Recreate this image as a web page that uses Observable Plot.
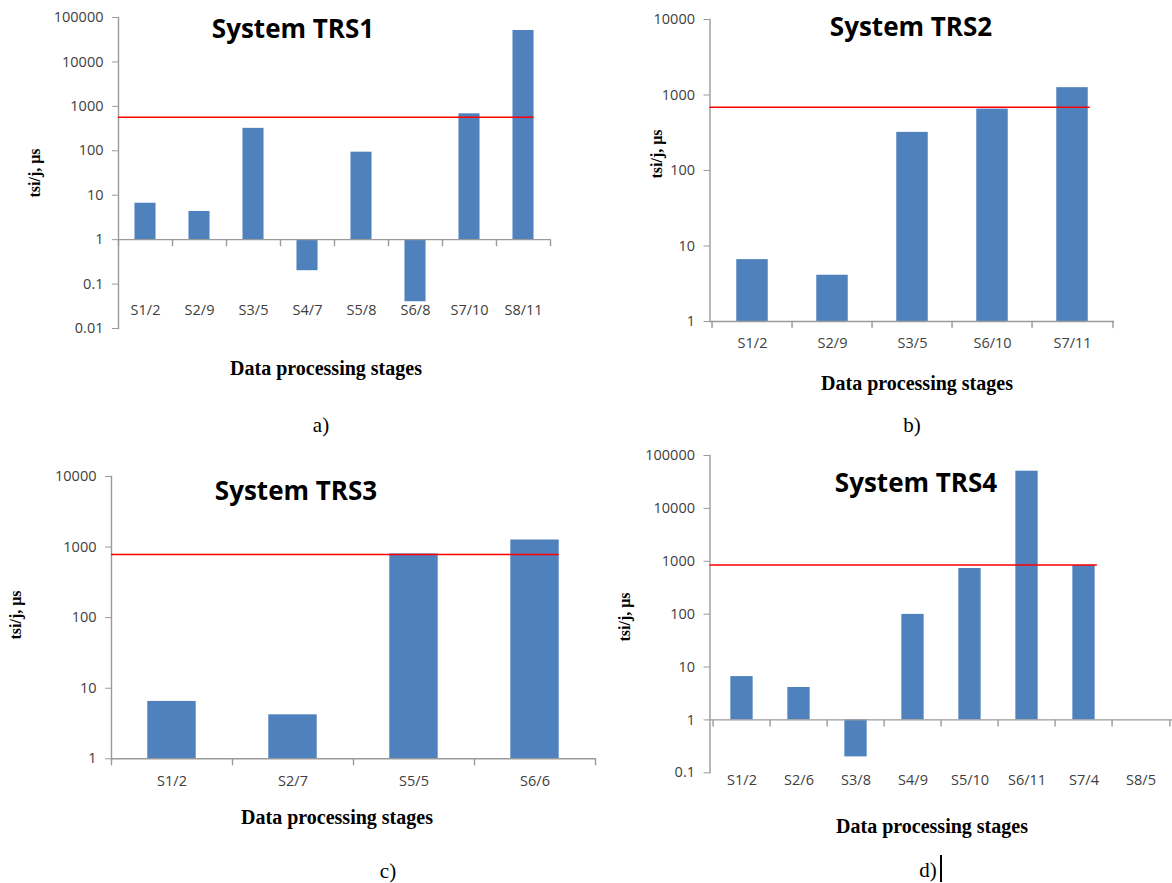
<!DOCTYPE html>
<html><head><meta charset="utf-8">
<script src="https://cdn.jsdelivr.net/npm/d3@7"></script>
<script src="https://cdn.jsdelivr.net/npm/@observablehq/plot@0.6"></script>
<style>
html,body{margin:0;padding:0;background:#fff;}
body{width:1172px;height:883px;position:relative;overflow:hidden;}
.abs{position:absolute;transform:translate(-50%,-50%);white-space:nowrap;line-height:1;}
.title{font-family:"Open Sans";font-weight:700;font-size:26px;color:#000;}
.ylab{font-family:"Liberation Serif";font-weight:700;font-size:16px;color:#000;transform:translate(-50%,-50%) rotate(-90deg);}
.xlab{font-family:"Liberation Serif";font-weight:700;font-size:20px;color:#000;}
.cap{font-family:"Liberation Serif";font-size:21px;color:#000;}
.holder{position:absolute;}
.holder svg{background:transparent !important;max-width:none !important;}
.cursor{position:absolute;background:#000;width:2px;}
</style></head><body>
<script>
// ---- data ----
const catsA = ["S1/2","S2/9","S3/5","S4/7","S5/8","S6/8","S7/10","S8/11"];
const valsA = [6.6, 4.3, 320, 0.2, 93, 0.04, 680, 51000];
const thrA = 570;
const ticksA = [0.01, 0.1, 1, 10, 100, 1000, 10000, 100000];
const tickLabelsA = ["0.01","0.1","1","10","100","1000","10000","100000"];

const catsB = ["S1/2","S2/9","S3/5","S6/10","S7/11"];
const valsB = [6.6, 4.1, 320, 650, 1250];
const thrB = 690;
const ticksB = [1, 10, 100, 1000, 10000];
const tickLabelsB = ["1","10","100","1000","10000"];

const catsC = ["S1/2","S2/7","S5/5","S6/6"];
const valsC = [6.5, 4.2, 800, 1260];
const thrC = 785;
const ticksC = [1, 10, 100, 1000, 10000];
const tickLabelsC = ["1","10","100","1000","10000"];

const catsD = ["S1/2","S2/6","S3/8","S4/9","S5/10","S6/11","S7/4","S8/5"];
const valsD = [6.6, 4.1, 0.2, 99, 730, 50500, 840, null];
const thrD = 850;
const ticksD = [0.1, 1, 10, 100, 1000, 10000, 100000];
const tickLabelsD = ["0.1","1","10","100","1000","10000","100000"];

const titles = ["System TRS1","System TRS2","System TRS3","System TRS4"];
const yLabel = "tsi/j, μs";
const xLabel = "Data processing stages";
const captions = ["a)","b)","c)","d)"];

const tickShape = {draw(ctx, l) { ctx.moveTo(0, 0); ctx.lineTo(0, -l); }};

function panel(cfg) {
  const {cats, vals, thr, ticks, tickLabels, left, top, width, height, mL, mR, mT, mB, ratio, labelY, labelDy} = cfg;
  const n = cats.length;
  const bw = (width - mL - mR) / n;
  const inset = bw * (1 - ratio) / 2;
  const data = cats.map((c, i) => ({c, v: vals[i]}));
  const bars = data.filter(d => d.v != null);
  let lastIdx = 0; vals.forEach((v, i) => { if (v != null) lastIdx = i; });
  const redInsetRight = (n - 1 - lastIdx) * bw + inset;
  const chart = Plot.plot({
    width, height, marginLeft: mL, marginRight: mR, marginTop: mT, marginBottom: mB,
    style: {background: "transparent", fontFamily: "Open Sans", fontSize: "14.5px", color: "#404040", overflow: "visible"},
    x: {type: "band", domain: cats, padding: 0, axis: null},
    y: {type: "log", domain: [ticks[0], ticks[ticks.length - 1]], axis: null},
    marks: [
      Plot.barY(bars, {x: "c", y1: 1, y2: "v", fill: "#4F81BD", insetLeft: inset, insetRight: inset}),
      Plot.ruleY([1], {stroke: "#9a9a9a", strokeWidth: 1.4}),
      Plot.frame({anchor: "left", stroke: "#9a9a9a", strokeWidth: 1.4}),
      Plot.axisY({ticks, tickFormat: d => tickLabels[ticks.indexOf(d)], tickSize: 6, tickPadding: 9, stroke: "#9a9a9a", fill: "#404040", label: null}),
      Plot.vector(cats, {x: d => d, y: () => 1, length: 6, rotate: 180, anchor: "start", stroke: "#9a9a9a", strokeWidth: 1.4, shape: tickShape, dx: -bw / 2}),
      Plot.vector([cats[n - 1]], {x: d => d, y: () => 1, length: 6, rotate: 180, anchor: "start", stroke: "#9a9a9a", strokeWidth: 1.4, shape: tickShape, dx: bw / 2}),
      Plot.ruleY([thr], {stroke: "#FF0000", strokeWidth: 1.5, insetRight: redInsetRight}),
      Plot.text(cats, {x: d => d, y: () => labelY, dy: labelDy, fill: "#404040"})
    ]
  });
  const holder = document.createElement("div");
  holder.className = "holder";
  holder.style.left = left + "px";
  holder.style.top = top + "px";
  holder.appendChild(chart);
  document.body.appendChild(holder);
}

function label(cls, text, x, y) {
  const d = document.createElement("div");
  d.className = "abs " + cls;
  d.textContent = text;
  d.style.left = x + "px";
  d.style.top = y + "px";
  document.body.appendChild(d);
}

panel({cats: catsA, vals: valsA, thr: thrA, ticks: ticksA, tickLabels: tickLabelsA,
  left: 0, top: 0, width: 580, height: 440, mL: 118, mR: 30, mT: 17, mB: 112, ratio: 0.39, labelY: 0.01, labelDy: -18});
panel({cats: catsB, vals: valsB, thr: thrB, ticks: ticksB, tickLabels: tickLabelsB,
  left: 590, top: 0, width: 582, height: 440, mL: 119.5, mR: 58, mT: 19, mB: 119, ratio: 0.40, labelY: 1, labelDy: 22});
panel({cats: catsC, vals: valsC, thr: thrC, ticks: ticksC, tickLabels: tickLabelsC,
  left: 0, top: 450, width: 600, height: 433, mL: 111, mR: 5, mT: 26, mB: 124.7, ratio: 0.40, labelY: 1, labelDy: 23});
panel({cats: catsD, vals: valsD, thr: thrD, ticks: ticksD, tickLabels: tickLabelsD,
  left: 590, top: 440, width: 582, height: 443, mL: 119.5, mR: 0, mT: 15, mB: 110.7, ratio: 0.40, labelY: 0.1, labelDy: 8});

const titlePos = [[293, 28], [911, 26], [296, 490], [916, 482]];
const yLabPos = [[35, 173], [657, 154], [16, 615], [625, 617]];
const xLabPos = [[326, 368], [917, 383], [337, 817], [932, 826]];
const capPos = [[321, 425], [912, 425], [388, 871], [928, 870]];
for (let i = 0; i < 4; i++) {
  label("title", titles[i], ...titlePos[i]);
  label("ylab", yLabel, ...yLabPos[i]);
  label("xlab", xLabel, ...xLabPos[i]);
  label("cap", captions[i], ...capPos[i]);
}
const cur = document.createElement("div");
cur.className = "cursor";
cur.style.left = "940px"; cur.style.top = "855px"; cur.style.height = "27px";
document.body.appendChild(cur);
</script>
</body></html>
